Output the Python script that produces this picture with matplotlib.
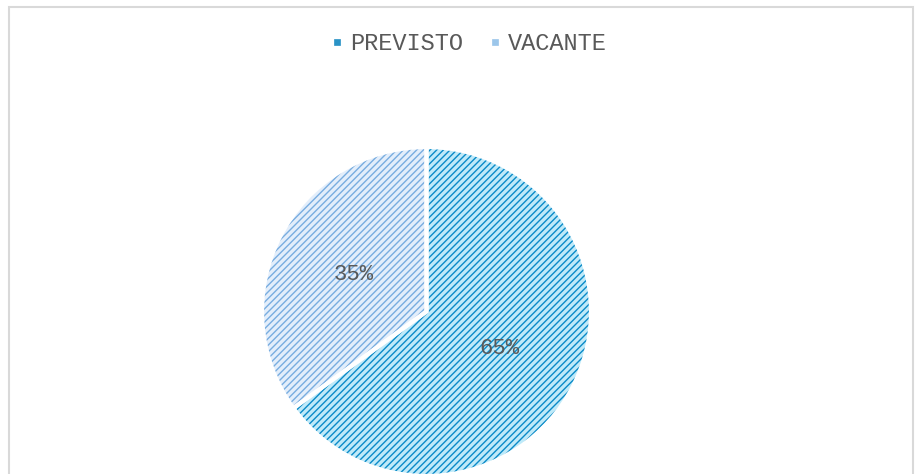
import matplotlib
matplotlib.use("Agg")
import matplotlib.pyplot as plt
from matplotlib.patches import Rectangle
from matplotlib.lines import Line2D

categories = ["PREVISTO", "VACANTE"]
values = [65, 35]
fill_colors = ["#bfeaf9", "#e3eefb"]
hatch_colors = ["#0a8ac8", "#78ade0"]
marker_colors = ["#2a93c6", "#9cc6ea"]
text_color = "#595959"

W, H = 918, 474
fig = plt.figure(figsize=(W / 100, H / 100), dpi=100)
plt.rcParams['hatch.linewidth'] = 1.0

# chart border
fig.patches.append(Rectangle((9 / W, -0.1), (913 - 9) / W, (H - 7) / H + 0.1,
                             transform=fig.transFigure, fill=False,
                             edgecolor="#d9d9d9", linewidth=1.5, zorder=0))

cx, cy, r = 426.5, 311.5, 164.5
ax = fig.add_axes([(cx - r) / W, (H - cy - r) / H, 2 * r / W, 2 * r / H])

wedges, _, autotexts = ax.pie(values, colors=fill_colors, startangle=90, counterclock=False,
                              radius=1, autopct="%1.0f%%", pctdistance=0.5,
                              wedgeprops=dict(linewidth=0),
                              textprops=dict(color=text_color, fontsize=16,
                                             family=["Liberation Mono", "DejaVu Sans Mono"]))
for w, hc in zip(wedges, hatch_colors):
    w.set_hatch("/////")
    w.set_edgecolor(hc)
    w.set_linewidth(0)
# white separators on top
ax.pie(values, colors=["none", "none"], startangle=90, counterclock=False, radius=1,
       wedgeprops=dict(linewidth=3, edgecolor="white", fill=False))
for t in autotexts:
    t.set_zorder(10)
ax.set_xlim(-1, 1)
ax.set_ylim(-1, 1)
ax.set_aspect("equal")
ax.axis("off")

handles = [Line2D([], [], marker="s", linestyle="none", markersize=5,
                  markerfacecolor=marker_colors[i], markeredgecolor=marker_colors[i],
                  markeredgewidth=0.5) for i in range(2)]
fig.legend(handles, categories, loc="center", bbox_to_anchor=(468 / W, 1 - 44 / H),
           ncol=2, frameon=False, handlelength=0.6, handletextpad=0.25, columnspacing=1.05,
           prop=dict(family=["Liberation Mono", "DejaVu Sans Mono"], size=17),
           labelcolor=text_color)

fig.savefig("out.png", dpi=100)
